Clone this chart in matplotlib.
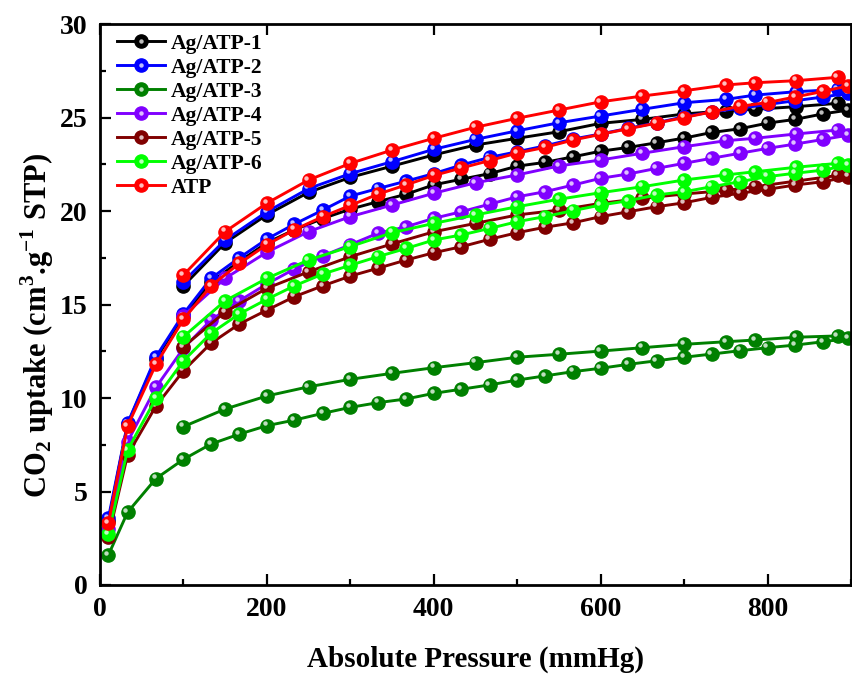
import numpy as np
import matplotlib
matplotlib.use('Agg')
import matplotlib.pyplot as plt
import matplotlib.transforms as mtransforms
from matplotlib.legend_handler import HandlerTuple
from matplotlib.ticker import MultipleLocator

plt.rcParams['font.family'] = 'Liberation Serif'
plt.rcParams['font.weight'] = 'bold'
plt.rcParams['mathtext.fontset'] = 'custom'
plt.rcParams['mathtext.rm'] = 'Liberation Serif:bold'
plt.rcParams['mathtext.bf'] = 'Liberation Serif:bold'

# pressure points (mmHg)
p_ads = [10, 33, 67, 100, 133, 167, 200, 233, 267, 300, 333, 367, 400, 433,
         467, 500, 533, 567, 600, 633, 667, 700, 733, 767, 800, 833, 867, 897]
p_des = [884, 834, 785, 750, 700, 650, 600, 550, 500, 450, 400, 350, 300, 250,
         200, 150, 100]

# CO2 uptake, adsorption branch
ads_1 = [3.4, 8.6, 12.1, 14.4, 16.2, 17.3, 18.3, 19.0, 19.6, 20.1, 20.5, 20.9, 21.4, 21.7,
         22.0, 22.4, 22.6, 22.9, 23.2, 23.4, 23.65, 23.9, 24.2, 24.4, 24.7, 24.9, 25.2, 25.4]
ads_2 = [3.57, 8.64, 12.2, 14.5, 16.4, 17.5, 18.5, 19.3, 20.05, 20.8, 21.2, 21.6, 22.0, 22.46,
         22.87, 23.17, 23.48, 23.85, 24.12, 24.42, 24.72, 25.04, 25.3, 25.5, 25.7, 25.9, 26.1, 26.3]
ads_3 = [1.6, 3.89, 5.69, 6.72, 7.54, 8.07, 8.52, 8.82, 9.18, 9.5, 9.75, 9.95, 10.25, 10.47,
         10.7, 10.96, 11.18, 11.41, 11.59, 11.8, 11.99, 12.18, 12.35, 12.53, 12.69, 12.83, 13.01, 13.19]
ads_4 = [3.0, 7.66, 10.57, 12.66, 14.17, 15.2, 16.1, 16.9, 17.6, 18.2, 18.81, 19.16, 19.61, 19.96,
         20.37, 20.76, 21.03, 21.39, 21.75, 21.98, 22.28, 22.55, 22.82, 23.09, 23.35, 23.58, 23.83, 24.06]
ads_5 = [2.58, 6.95, 9.57, 11.46, 12.93, 13.96, 14.7, 15.42, 16.0, 16.52, 16.94, 17.38, 17.77, 18.09,
         18.49, 18.84, 19.13, 19.37, 19.7, 19.96, 20.23, 20.44, 20.73, 20.95, 21.16, 21.39, 21.57, 21.84]
ads_6 = [2.73, 7.22, 9.98, 11.99, 13.46, 14.5, 15.28, 16.0, 16.63, 17.1, 17.56, 18.0, 18.45, 18.72,
         19.07, 19.43, 19.7, 20.02, 20.32, 20.55, 20.86, 21.03, 21.3, 21.57, 21.84, 22.02, 22.19, 22.46]
ads_atp = [3.3, 8.5, 11.8, 14.2, 16.0, 17.2, 18.2, 19.0, 19.7, 20.3, 20.9, 21.4, 21.9, 22.3,
           22.7, 23.1, 23.4, 23.8, 24.1, 24.4, 24.7, 25.0, 25.3, 25.6, 25.8, 26.1, 26.4, 26.7]

# CO2 uptake, desorption branch
des_1 = [25.76, 25.58, 25.44, 25.36, 25.19, 24.9, 24.69, 24.24, 23.89, 23.53, 23.0, 22.4,
         21.8, 21.0, 19.8, 18.3, 16.0]
des_2 = [26.5, 26.38, 26.2, 25.97, 25.79, 25.44, 25.08, 24.72, 24.29, 23.83, 23.3, 22.64,
         22.0, 21.2, 19.96, 18.45, 16.22]
des_3 = [13.32, 13.25, 13.1, 13.01, 12.87, 12.69, 12.51, 12.34, 12.18, 11.89, 11.62, 11.32,
         11.0, 10.6, 10.11, 9.41, 8.47]
des_4 = [24.33, 24.12, 23.89, 23.76, 23.44, 23.09, 22.73, 22.41, 21.93, 21.51, 20.95, 20.32,
         19.7, 18.9, 17.8, 16.4, 14.4]
des_5 = [21.9, 21.6, 21.3, 21.1, 20.91, 20.68, 20.41, 20.05, 19.79, 19.34, 18.89, 18.24,
         17.56, 16.75, 15.87, 14.6, 12.74]
des_6 = [22.55, 22.34, 22.1, 21.93, 21.66, 21.3, 20.98, 20.63, 20.23, 19.79, 19.34, 18.84,
         18.1, 17.38, 16.4, 15.2, 13.28]
des_atp = [27.15, 26.97, 26.86, 26.74, 26.43, 26.15, 25.84, 25.4, 24.96, 24.48, 23.89, 23.26,
           22.55, 21.66, 20.42, 18.9, 16.58]

labels = ['Ag/ATP-1', 'Ag/ATP-2', 'Ag/ATP-3', 'Ag/ATP-4', 'Ag/ATP-5', 'Ag/ATP-6', 'ATP']
colors = ['#000000', '#0000FF', '#008000', '#8000FF', '#800000', '#00FF00', '#FF0000']
ads_all = [ads_1, ads_2, ads_3, ads_4, ads_5, ads_6, ads_atp]
des_all = [des_1, des_2, des_3, des_4, des_5, des_6, des_atp]

fig = plt.figure(figsize=(8.52, 6.77), dpi=100)
ax = fig.add_axes([0.1174, 0.1359, 0.8814, 0.8286])

# small offset white dot gives the markers a shaded-ball look
hl = mtransforms.offset_copy(ax.transData, fig=fig, x=-1.6, y=1.6, units='points')

handles = []
for lab, c, a, d in zip(labels, colors, ads_all, des_all):
    x = p_ads + p_des
    y = a + d
    ln, = ax.plot(x, y, '-o', color=c, lw=2.1, ms=9.5, mec=c, mfc=c, label=lab)
    ax.plot(x, y, 'o', ls='none', ms=3.2, mfc='white', mec='none', alpha=0.75, transform=hl)
    dot, = ax.plot([], [], 'o', ls='none', ms=3.2, mfc='white', mec='none', alpha=0.75)
    handles.append((ln, dot))

ax.set_xlim(0, 900)
ax.set_ylim(0, 30)
ax.xaxis.set_major_locator(MultipleLocator(200))
ax.xaxis.set_minor_locator(MultipleLocator(100))
ax.yaxis.set_major_locator(MultipleLocator(5))
ax.yaxis.set_minor_locator(MultipleLocator(2.5))
ax.tick_params(which='major', direction='in', length=8, width=1.6, labelsize=20, pad=9)
ax.tick_params(which='minor', direction='in', length=4, width=1.6)
ax.tick_params(axis='x', which='major', top=True)
for s in ax.spines.values():
    s.set_linewidth(2)

ax.set_xlabel('Absolute Pressure (mmHg)', fontsize=21, fontweight='bold', labelpad=17)
ax.set_ylabel(r'CO$_2$ uptake (cm$^3$.g$^{-1}$ STP)', fontsize=22, fontweight='bold')
ax.yaxis.set_label_coords(-0.058, 0.463)

ax.legend(handles, labels, handler_map={tuple: HandlerTuple(ndivide=1)},
          loc='upper left', bbox_to_anchor=(0.011, 0.998), frameon=False,
          fontsize=15.5, handlelength=2.25, labelspacing=0.18, handletextpad=0.25,
          borderaxespad=0.0)

plt.savefig('out.png', dpi=100)
